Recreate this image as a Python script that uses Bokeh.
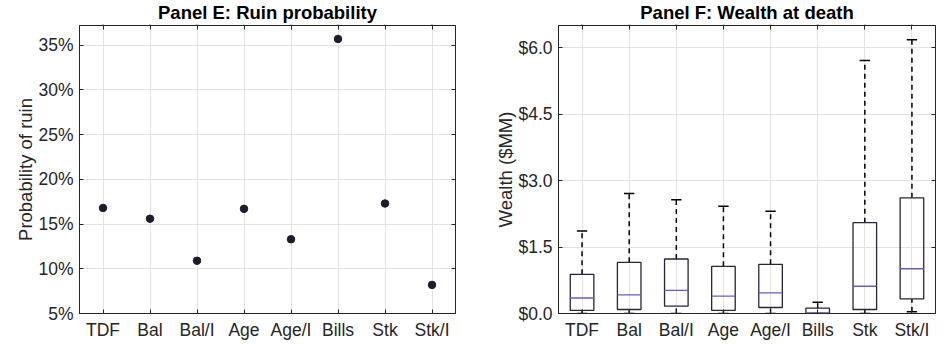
from bokeh.plotting import figure
from bokeh.layouts import row
from bokeh.models import (FactorRange, Range1d, FixedTicker, PrintfTickFormatter,
                          LinearAxis, CategoricalAxis, ColumnDataSource)
from bokeh.transform import dodge
from bokeh.embed import file_html
from bokeh.resources import INLINE

categories = ["TDF", "Bal", "Bal/I", "Age", "Age/I", "Bills", "Stk", "Stk/I"]

# Panel E: ruin probability (%)
ruin_prob = [16.8, 15.6, 10.9, 16.7, 13.3, 35.7, 17.3, 8.2]

# Panel F: wealth at death ($MM) box-plot statistics
w_low = [0.0, 0.0, 0.0, 0.0, 0.0, 0.0, 0.0, 0.04]
w_q1 = [0.07, 0.09, 0.165, 0.07, 0.135, 0.0, 0.09, 0.33]
w_med = [0.35, 0.42, 0.52, 0.39, 0.465, 0.015, 0.615, 1.01]
w_q3 = [0.885, 1.155, 1.23, 1.065, 1.11, 0.12, 2.05, 2.61]
w_high = [1.86, 2.71, 2.57, 2.42, 2.31, 0.255, 5.71, 6.18]

left_ticks = [5, 10, 15, 20, 25, 30, 35]
right_ticks = [0.0, 1.5, 3.0, 4.5, 6.0]

FONT = "Liberation Sans"
TXT = "#262626"
GRID = "#e3e3e3"


def style(p, yticks, yfmt, ylabel):
    p.title.text_font = FONT
    p.title.text_font_size = "18.5px"
    p.title.text_font_style = "bold"
    p.title.text_color = "#000000"
    p.title.align = "center"
    p.title.standoff = -3
    p.outline_line_color = TXT
    p.outline_line_width = 1
    p.background_fill_color = "white"
    p.border_fill_color = "white"
    for g in (p.xgrid, p.ygrid):
        g.grid_line_color = GRID
        g.grid_line_width = 1
    p.yaxis.ticker = FixedTicker(ticks=yticks)
    p.yaxis.formatter = PrintfTickFormatter(format=yfmt)
    p.yaxis.axis_label = ylabel
    p.ygrid.ticker = FixedTicker(ticks=yticks)
    for ax in (p.xaxis[0], p.yaxis[0]):
        ax.axis_line_color = TXT
        ax.major_tick_line_color = TXT
        ax.major_tick_in = 4
        ax.major_tick_out = 0
        ax.minor_tick_line_color = None
        ax.major_label_text_font = FONT
        ax.major_label_text_font_size = "17.5px"
        ax.major_label_text_color = TXT
        ax.axis_label_text_font = FONT
        ax.axis_label_text_font_size = "18.5px"
        ax.axis_label_text_font_style = "normal"
        ax.axis_label_text_color = TXT
    p.xaxis.major_label_standoff = 6
    p.yaxis.major_label_standoff = 6
    p.yaxis.axis_label_standoff = -1
    # mirrored tick marks on top and right (no labels)
    ra = LinearAxis(ticker=FixedTicker(ticks=yticks),
                    major_label_overrides={t: "" for t in yticks},
                    major_label_text_font_size="1px", major_label_standoff=0,
                    major_tick_in=4, major_tick_out=0, minor_tick_line_color=None,
                    axis_line_color=TXT, major_tick_line_color=TXT)
    p.add_layout(ra, "right")
    ta = CategoricalAxis(major_label_overrides={c: "" for c in categories},
                         major_label_text_font_size="1px", major_label_standoff=0,
                         major_tick_in=4, major_tick_out=0,
                         axis_line_color=TXT, major_tick_line_color=TXT)
    p.add_layout(ta, "above")


# ---- Panel E ----
p1 = figure(x_range=FactorRange(factors=categories, range_padding=0),
            y_range=Range1d(5, 37.2),
            frame_width=376, frame_height=288,
            min_border_left=79, min_border_right=15, min_border_top=25, min_border_bottom=31,
            title="Panel E: Ruin probability",
            output_backend="svg", toolbar_location=None)
style(p1, left_ticks, "%d%%", "Probability of ruin")
p1.scatter(x=categories, y=ruin_prob, size=7.5, color="#1c1c2c")

# ---- Panel F ----
src = ColumnDataSource(dict(cat=categories, low=w_low, q1=w_q1, med=w_med, q3=w_q3, high=w_high))
p2 = figure(x_range=FactorRange(factors=categories, range_padding=0),
            y_range=Range1d(0, 6.5),
            frame_width=377, frame_height=288,
            min_border_left=88, min_border_right=12, min_border_top=25, min_border_bottom=31,
            title="Panel F: Wealth at death",
            output_backend="svg", toolbar_location=None)
style(p2, right_ticks, "$%.1f", "Wealth ($MM)")

WH = "#000000"
p2.segment(x0="cat", y0="q3", x1="cat", y1="high", source=src, line_color=WH,
           line_width=1.5, line_dash="5 4")
p2.segment(x0="cat", y0="low", x1="cat", y1="q1", source=src, line_color=WH,
           line_width=1.5, line_dash="5 4")
p2.segment(x0=dodge("cat", -0.11, range=p2.x_range), y0="high",
           x1=dodge("cat", 0.11, range=p2.x_range), y1="high", source=src,
           line_color=WH, line_width=1.5)
p2.segment(x0=dodge("cat", -0.11, range=p2.x_range), y0="low",
           x1=dodge("cat", 0.11, range=p2.x_range), y1="low", source=src,
           line_color=WH, line_width=1.5)
p2.vbar(x="cat", bottom="q1", top="q3", width=0.5, source=src,
        fill_color=None, line_color="#262638", line_width=1.3)
p2.segment(x0=dodge("cat", -0.25, range=p2.x_range), y0="med",
           x1=dodge("cat", 0.25, range=p2.x_range), y1="med", source=src,
           line_color="#6a5acd", line_width=1.3)

layout = row(p1, p2, spacing=0)
open("out.html", "w").write(file_html(layout, INLINE))
